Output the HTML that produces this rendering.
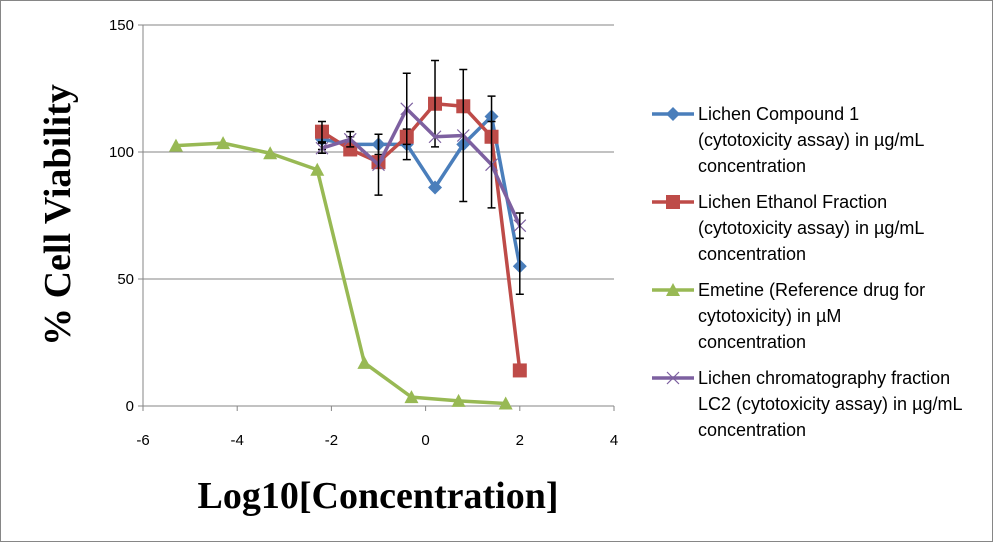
<!DOCTYPE html>
<html><head><meta charset="utf-8"><style>
body{margin:0;background:#fff}
svg{display:block;font-family:"Liberation Sans",sans-serif}
</style></head><body>
<svg width="993" height="542" viewBox="0 0 993 542">
<rect x="0.5" y="0.5" width="992" height="541" fill="#fff" stroke="#868686"/>
<g id="grid"></g><g id="axes"></g><g id="series"></g>
<text x="378" y="508" text-anchor="middle" font-family="Liberation Serif" font-weight="bold" font-size="38">Log10[Concentration]</text>
<text transform="translate(70,215) rotate(-90)" text-anchor="middle" font-family="Liberation Serif" font-weight="bold" font-size="38">% Cell Viability</text>
<g id="legend"></g>
</svg>
<script>
const xs = [-2.2,-1.6,-1.0,-0.4,0.2,0.8,1.4,2.0];
const xsEmetine = [-5.3,-4.3,-3.3,-2.3,-1.3,-0.3,0.7,1.7];
const compound1 = [105,103,103,103,86,103,114,55];
const ethanol = [108,101,96,106,119,118,106,14];
const emetine = [102.5,103.5,99.5,93,17,3.5,2,1];
const lc2 = [101.5,105,95,117,106,106.5,95,71];
const errCompound1 = [4,3,4,6,0,0,8,11];
const errEthanol = [4,0,0,0,17,0,0,0];
const errLc2 = [2,3,12,14,0,26,17,5];
const yTicks = [0,50,100,150];
const xTicks = [-6,-4,-2,0,2,4];
const legendLabels = [
 ["Lichen Compound 1","(cytotoxicity assay) in µg/mL","concentration"],
 ["Lichen Ethanol Fraction","(cytotoxicity assay) in µg/mL","concentration"],
 ["Emetine (Reference  drug for","cytotoxicity) in µM","concentration"],
 ["Lichen chromatography fraction","LC2 (cytotoxicity assay) in µg/mL","concentration"]];
const NS="http://www.w3.org/2000/svg";
const X=v=>143+(v+6)*47.1, Y=v=>406-v*2.54;
function mk(p,t,a){const e=document.createElementNS(NS,t);for(const k in a)e.setAttribute(k,a[k]);p.appendChild(e);return e;}
const G=document.getElementById('grid'),A=document.getElementById('axes'),S=document.getElementById('series'),L=document.getElementById('legend');
yTicks.forEach(t=>{if(t>0){const l=mk(G,'line',{x1:143,x2:614,y1:Y(t),y2:Y(t),stroke:'#868686'});}
 mk(A,'line',{x1:138,x2:143,y1:Y(t),y2:Y(t),stroke:'#868686'});
 const tx=mk(A,'text',{x:134,y:Y(t)+5,'text-anchor':'end','font-size':15});tx.textContent=t;
 });
mk(A,'line',{x1:143,x2:143,y1:Y(150),y2:Y(0),stroke:'#868686'});
mk(A,'line',{x1:143,x2:614,y1:Y(0),y2:Y(0),stroke:'#868686'});
xTicks.forEach(t=>{mk(A,'line',{x1:X(t),x2:X(t),y1:406,y2:411,stroke:'#868686'});
 const tx=mk(A,'text',{x:X(t),y:445,'text-anchor':'middle','font-size':15});tx.textContent=t;
 });
function marker(g,type,x,y,c){
 if(type==='d')mk(g,'path',{d:`M${x} ${y-7}L${x+7} ${y}L${x} ${y+7}L${x-7} ${y}Z`,fill:c});
 else if(type==='s')mk(g,'rect',{x:x-7,y:y-7,width:14,height:14,fill:c});
 else if(type==='t')mk(g,'path',{d:`M${x} ${y-7}L${x+7} ${y+6}L${x-7} ${y+6}Z`,fill:c});
 else mk(g,'path',{d:`M${x-6} ${y-6}L${x+6} ${y+6}M${x+6} ${y-6}L${x-6} ${y+6}`,stroke:c,'stroke-width':1.2});
}
const series=[
 {name:'series-lichen-compound-1',xv:xs,yv:compound1,err:errCompound1,c:'#4a7ebb',m:'d'},
 {name:'series-lichen-ethanol-fraction',xv:xs,yv:ethanol,err:errEthanol,c:'#be4b48',m:'s'},
 {name:'series-emetine',xv:xsEmetine,yv:emetine,err:null,c:'#98b954',m:'t'},
 {name:'series-lichen-lc2',xv:xs,yv:lc2,err:errLc2,c:'#7d60a0',m:'x'}];
series.forEach((s,i)=>{
 const g=mk(S,'g',{});
 mk(g,'polyline',{points:s.yv.map((v,j)=>X(s.xv[j])+','+Y(v)).join(' '),fill:'none',stroke:s.c,'stroke-width':3.5,'stroke-linejoin':'round'});
 s.yv.forEach((v,j)=>marker(g,s.m,X(s.xv[j]),Y(v),s.c));
 if(s.err)s.yv.forEach((v,j)=>{const e=s.err[j];if(!e)return;const x=X(s.xv[j]);
  mk(g,'path',{d:`M${x} ${Y(v+e)}V${Y(v-e)}M${x-4} ${Y(v+e)}H${x+4}M${x-4} ${Y(v-e)}H${x+4}`,stroke:'#000','stroke-width':1.5,fill:'none'});});
 const ly=114+i*88;
 const lg=mk(L,'g',{});
 mk(lg,'line',{x1:652,x2:694,y1:ly,y2:ly,stroke:s.c,'stroke-width':3.5});
 marker(lg,s.m,673,ly,s.c);
 legendLabels[i].forEach((t,k)=>{const tx=mk(lg,'text',{x:698,y:ly+6+k*26,'font-size':18});tx.textContent=t;});
});
</script>
</body></html>
